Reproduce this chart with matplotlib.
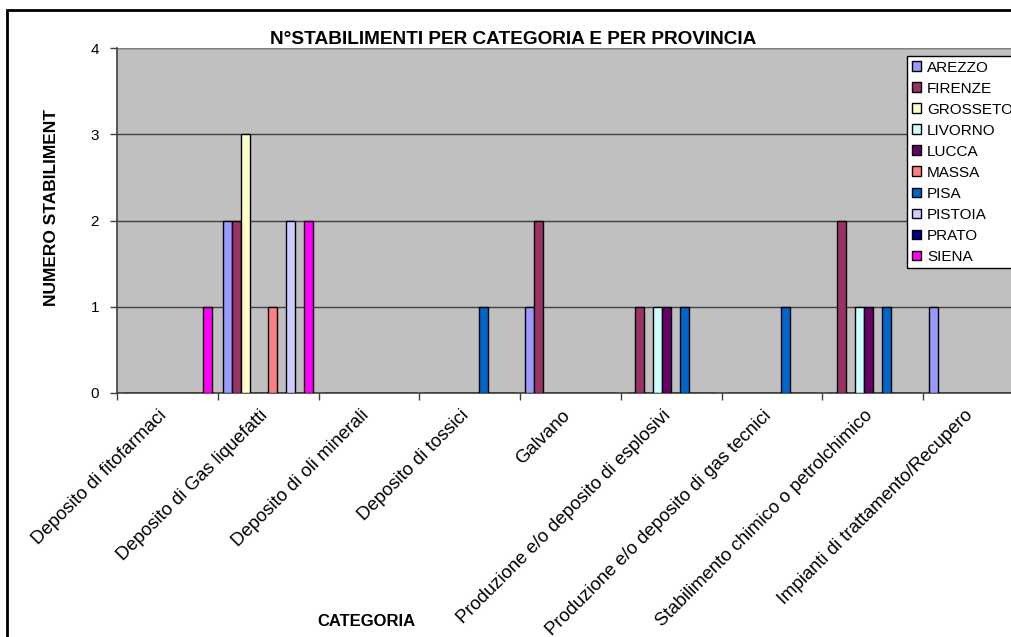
import numpy as np
import matplotlib.pyplot as plt
from matplotlib.patches import Rectangle
from matplotlib.transforms import ScaledTranslation

plt.rcParams['font.family'] = ['Liberation Sans', 'DejaVu Sans']

categorie = [
    "Deposito di fitofarmaci",
    "Deposito di Gas liquefatti",
    "Deposito di oli minerali",
    "Deposito di tossici",
    "Galvano",
    "Produzione e/o deposito di esplosivi",
    "Produzione e/o deposito di gas tecnici",
    "Stabilimento chimico o petrolchimico",
    "Impianti di trattamento/Recupero",
]

province = ["AREZZO", "FIRENZE", "GROSSETO", "LIVORNO", "LUCCA",
            "MASSA", "PISA", "PISTOIA", "PRATO", "SIENA"]

colori = ["#9999FF", "#993366", "#FFFFCC", "#CCFFFF", "#660066",
          "#FF8080", "#0066CC", "#CCCCFF", "#000080", "#FF00FF"]

# numero stabilimenti: righe = province, colonne = categorie
valori = {
    "AREZZO":   [0, 2, 0, 0, 1, 0, 0, 0, 1],
    "FIRENZE":  [0, 2, 0, 0, 2, 1, 0, 2, 0],
    "GROSSETO": [0, 3, 0, 0, 0, 0, 0, 0, 0],
    "LIVORNO":  [0, 0, 0, 0, 0, 1, 0, 1, 0],
    "LUCCA":    [0, 0, 0, 0, 0, 1, 0, 1, 0],
    "MASSA":    [0, 1, 0, 0, 0, 0, 0, 0, 0],
    "PISA":     [0, 0, 0, 1, 0, 1, 1, 1, 0],
    "PISTOIA":  [0, 2, 0, 0, 0, 0, 0, 0, 0],
    "PRATO":    [0, 0, 0, 0, 0, 0, 0, 0, 0],
    "SIENA":    [1, 2, 0, 0, 0, 0, 0, 0, 0],
}

W, H = 1011, 637
fig = plt.figure(figsize=(W / 100, H / 100), dpi=100)
fig.patch.set_facecolor("white")

# plot area (runs past the right edge like the original)
left, right, top, bottom = 117, 1024, 48, 393
ax = fig.add_axes([left / W, 1 - bottom / H, (right - left) / W, (bottom - top) / H])
ax.set_facecolor("#C0C0C0")

n_cat = len(categorie)
n_ser = len(province)
gap = 0.106
bw = (1 - gap) / n_ser
x = np.arange(n_cat)

bars = []
for j, prov in enumerate(province):
    b = ax.bar(x + gap / 2 + j * bw, valori[prov], width=bw, align="edge",
               color=colori[j], edgecolor="black", linewidth=1.0,
               label=prov, zorder=3)
    bars.append(b)

ax.set_xlim(0, n_cat)
ax.set_ylim(0, 4)
ax.set_yticks([0, 1, 2, 3, 4])
ax.yaxis.grid(True, color="#404040", linewidth=1.0, zorder=1)
ax.set_axisbelow(True)

ax.set_xticks(np.arange(n_cat + 1))
ax.set_xticklabels([])
ax.set_xticks(x + 0.5, minor=True)
ax.set_xticklabels(categorie, minor=True, rotation=45, ha="right", va="top",
                   rotation_mode="anchor", fontsize=13.3)
ax.tick_params(axis="x", which="minor", length=0, pad=10)
ax.tick_params(axis="x", which="major", length=5, width=1, color="#404040")
ax.tick_params(axis="y", length=5, width=1, color="#404040", labelsize=11, pad=8)
off = ScaledTranslation(-9 / 100, 0, fig.dpi_scale_trans)
for lab in ax.get_xticklabels(minor=True):
    lab.set_transform(lab.get_transform() + off)

for s in ["top", "right"]:
    ax.spines[s].set_visible(False)
for s in ["left", "bottom"]:
    ax.spines[s].set_color("#404040")
    ax.spines[s].set_linewidth(1.2)
ax.axhline(4, color="#808080", linewidth=1.0, zorder=2)

fig.text(513 / W, 1 - 40 / H, "N°STABILIMENTI PER CATEGORIA E PER PROVINCIA",
         ha="center", va="center", fontsize=13.7, fontweight="bold")
fig.text(52 / W, 1 - 208 / H, "NUMERO STABILIMENT", rotation=90,
         ha="center", va="center", fontsize=12.5, fontweight="bold")
fig.text(366 / W, 1 - 621 / H, "CATEGORIA", ha="center", va="center",
         fontsize=12, fontweight="bold")

leg = fig.legend(handles=bars, labels=province, loc="upper left",
                 bbox_to_anchor=(907 / W, 1 - 56 / H), fontsize=11,
                 frameon=True, fancybox=False, shadow=False,
                 handlelength=0.6, handleheight=0.6, handletextpad=0.4,
                 labelspacing=0.46, borderpad=0.3, borderaxespad=0)
leg.get_frame().set_edgecolor("black")
leg.get_frame().set_linewidth(1.0)
leg.get_frame().set_facecolor("white")
leg.get_frame().set_alpha(1)

# outer chart border
fig.patches.append(Rectangle((7 / W, -0.2), 1.2, 1 - 10 / H + 0.2,
                             transform=fig.transFigure, fill=False,
                             edgecolor="black", linewidth=2.0, zorder=0))

fig.savefig("out.png", dpi=100)
